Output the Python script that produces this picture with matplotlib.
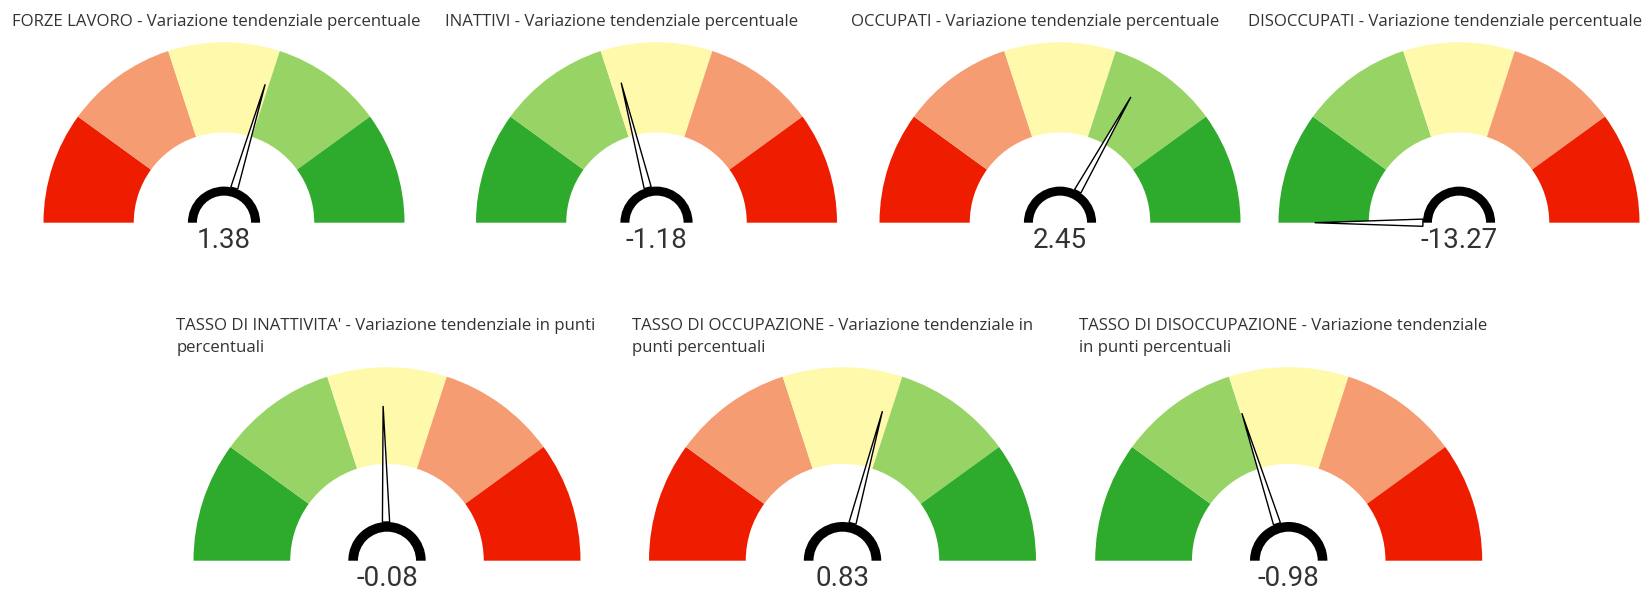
import numpy as np
import matplotlib
matplotlib.use("Agg")
import matplotlib.pyplot as plt
from matplotlib.patches import Wedge, Polygon

# ---------------- data ----------------
titles = [
    ["FORZE LAVORO - Variazione tendenziale percentuale"],
    ["INATTIVI - Variazione tendenziale percentuale"],
    ["OCCUPATI - Variazione tendenziale percentuale"],
    ["DISOCCUPATI - Variazione tendenziale percentuale"],
    ["TASSO DI INATTIVITA' - Variazione tendenziale in punti", "percentuali"],
    ["TASSO DI OCCUPAZIONE - Variazione tendenziale in", "punti percentuali"],
    ["TASSO DI DISOCCUPAZIONE - Variazione tendenziale", "in punti percentuali"],
]
values = [1.38, -1.18, 2.45, -13.27, -0.08, 0.83, -0.98]
labels = ["1.38", "-1.18", "2.45", "-13.27", "-0.08", "0.83", "-0.98"]
scale_min = [-7.5, -7.5, -7.5, -7.5, -5, -5, -5]
scale_max = [7.5, 7.5, 7.5, 7.5, 5, 5, 5]
higher_is_good = [True, False, True, False, False, True, False]

# ---------------- layout / style ----------------
W, H = 1648, 592
centers = [(224, 222.7), (656.5, 222.7), (1060, 222.7), (1459, 222.7),
           (387, 560.7), (842.5, 560.7), (1288.7, 560.7)]
radii = [180.5, 180.5, 180.5, 180.5, 193.5, 193.5, 193.5]
title_x = [12.5, 445, 851.5, 1248.5, 176.5, 632.5, 1079]
title_y = [[22], [22], [22], [22], [326.5, 348.5], [326.5, 348.5], [326.5, 348.5]]
value_y = [240, 240, 240, 240, 579, 579, 579]

colors_good_high = ["#EE1D00", "#F59C72", "#FFFAAB", "#98D465", "#2EAA2C"]
text_color = "#333333"
title_font = "Open Sans"
value_font = "Roboto"

fig = plt.figure(figsize=(W / 100, H / 100), dpi=100)
ax = fig.add_axes([0, 0, 1, 1])
ax.set_xlim(0, W)
ax.set_ylim(0, H)
ax.axis("off")


def Y(y_down):
    return H - y_down


for i in range(len(values)):
    cx, cy = centers[i][0], Y(centers[i][1])
    R = radii[i]
    cols = colors_good_high if higher_is_good[i] else colors_good_high[::-1]
    n = len(cols)
    for k, c in enumerate(cols):
        t2 = 180 - 180 / n * k
        t1 = 180 - 180 / n * (k + 1)
        ax.add_patch(Wedge((cx, cy), R, t1, t2, width=R * 0.5,
                           facecolor=c, edgecolor="none", zorder=1))
    # needle
    v = min(max(values[i], scale_min[i]), scale_max[i])
    frac = (v - scale_min[i]) / (scale_max[i] - scale_min[i])
    ang = np.deg2rad(180 - 180 * frac)
    d = np.array([np.cos(ang), np.sin(ang)])
    p = np.array([-d[1], d[0]])
    c0 = np.array([cx, cy])
    r0, r1, hw = 0.2 * R, 0.8 * R, 3.6
    base = c0 + d * r0
    tip = c0 + d * r1
    ax.add_patch(Polygon([base + p * hw, tip, base - p * hw], closed=True,
                         facecolor="white", edgecolor="black", linewidth=1.0,
                         joinstyle="miter", zorder=3))
    # hub ring
    ax.add_patch(Wedge((cx, cy), 0.2 * R, 0, 180, width=0.05 * R,
                       facecolor="black", edgecolor="none", zorder=4))
    # value
    ax.text(cx, Y(value_y[i]), labels[i], ha="center", va="center",
            fontsize=20, color=text_color, family=value_font)
    # title
    for line, ty in zip(titles[i], title_y[i]):
        ax.text(title_x[i], Y(ty), line, ha="left", va="center",
                fontsize=12.1, color=text_color, family=title_font)

fig.savefig("out.png", dpi=100, facecolor="white")
